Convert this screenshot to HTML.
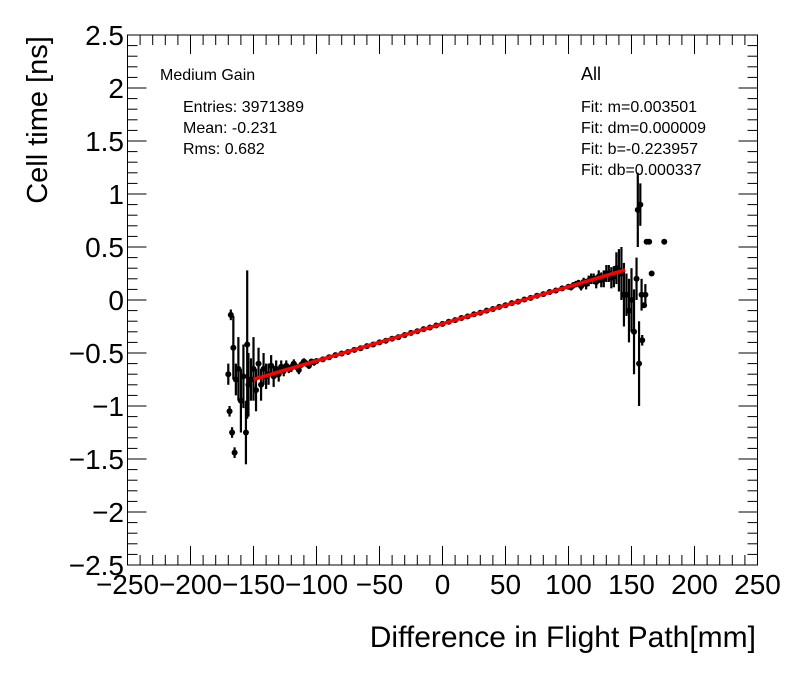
<!DOCTYPE html>
<html><head><meta charset="utf-8"><style>
body{margin:0;background:#fff;}
svg text{font-family:"Liberation Sans",sans-serif;fill:#000;}
</style></head><body>
<svg id="chart" width="796" height="672" xmlns="http://www.w3.org/2000/svg">
<rect width="796" height="672" fill="#fff"/>
<g id="axes"></g>
<g id="marks"></g>
<g id="fitg"></g>
<text x="0" y="0" font-size="29" text-anchor="middle" transform="translate(47,120) rotate(-90)">Cell time [ns]</text>
<text x="756" y="647" font-size="30" text-anchor="end">Difference in Flight Path[mm]</text>
<text x="160" y="80" font-size="16">Medium Gain</text>
<text x="183" y="112" font-size="16">Entries: 3971389</text>
<text x="183" y="133" font-size="16">Mean: -0.231</text>
<text x="183" y="154" font-size="16">Rms: 0.682</text>
<text x="581" y="80" font-size="18">All</text>
<text x="581" y="112" font-size="16">Fit: m=0.003501</text>
<text x="581" y="133" font-size="16">Fit: dm=0.000009</text>
<text x="581" y="154" font-size="16">Fit: b=-0.223957</text>
<text x="581" y="175" font-size="16">Fit: db=0.000337</text>
</svg>
<script>
const xs=[-170,-169,-168,-167,-166,-165,-164,-162,-160,-158,-156,-155,-154,-152,-150,-148,-146,-144,-142,-140,-138,-136,-134,-132,-130,-128,-126,-124,-122,-120,-118,-116,-114,-112,-110,-108,-106,-104,-102,-100,-95,-90,-85,-80,-75,-70,-65,-60,-55,-50,-45,-40,-35,-30,-25,-20,-15,-10,-5,0,5,10,15,20,25,30,35,40,45,50,55,60,65,70,75,80,85,90,95,100,102,104,106,108,110,112,114,116,118,120,122,124,126,128,130,132,134,136,138,140,142,144,146,148,150,152,154,155,156,157,158,158.5,160,161,162,164,166,176];
const ys=[-0.70,-1.05,-0.14,-1.25,-0.45,-1.44,-0.75,-0.65,-0.95,-0.72,-1.25,-0.42,-0.80,-0.75,-0.65,-0.85,-0.60,-0.80,-0.65,-0.72,-0.70,-0.62,-0.72,-0.65,-0.70,-0.63,-0.67,-0.62,-0.65,-0.64,-0.60,-0.63,-0.66,-0.61,-0.58,-0.60,-0.62,-0.58,-0.59,-0.575,-0.56,-0.54,-0.52,-0.505,-0.49,-0.47,-0.455,-0.435,-0.42,-0.40,-0.385,-0.365,-0.35,-0.33,-0.31,-0.295,-0.275,-0.26,-0.24,-0.225,-0.205,-0.19,-0.17,-0.155,-0.135,-0.12,-0.10,-0.085,-0.065,-0.05,-0.03,-0.015,0.005,0.02,0.04,0.055,0.075,0.09,0.11,0.125,0.12,0.14,0.15,0.16,0.13,0.17,0.15,0.18,0.20,0.20,0.17,0.22,0.19,0.20,0.25,0.25,0.21,0.22,0.30,0.28,0.25,0.05,0.05,-0.10,0.0,-0.30,0.20,0.85,-0.60,0.90,0.05,-0.38,-0.05,0.05,0.55,0.55,0.25,0.55];
const es=[0.10,0.05,0.05,0.05,0.30,0.05,0.15,0.30,0.30,0.30,0.30,0.70,0.30,0.20,0.30,0.20,0.15,0.15,0.15,0.12,0.10,0.10,0.10,0.08,0.07,0.06,0.05,0.05,0.04,0.04,0.04,0.03,0.04,0.03,0.03,0.03,0.03,0.02,0.03,0.02,0.02,0.02,0.02,0.015,0.015,0.015,0.015,0.015,0.015,0.015,0.015,0.015,0.015,0.015,0.015,0.015,0.015,0.015,0.015,0.015,0.015,0.015,0.015,0.015,0.015,0.015,0.015,0.015,0.015,0.015,0.015,0.015,0.015,0.015,0.02,0.02,0.02,0.02,0.02,0.025,0.03,0.03,0.03,0.03,0.04,0.04,0.05,0.05,0.05,0.05,0.06,0.06,0.07,0.08,0.08,0.08,0.10,0.10,0.15,0.20,0.25,0.30,0.20,0.30,0.30,0.40,0.20,0.35,0.40,0.20,0.15,0.05,0.02,0.10,0.02,0.02,0.02,0.02];
const xTicks=[-250,-200,-150,-100,-50,0,50,100,150,200,250];
const yTicks=[-2.5,-2,-1.5,-1,-0.5,0,0.5,1,1.5,2,2.5];
const fitM=0.003501, fitB=-0.223957, fitRange=[-150,145];
const NS="http://www.w3.org/2000/svg";
const L=127.5,R=757.5,T=35,B=565;
const X=v=>L+(v+250)*(R-L)/500;
const Y=v=>B-(v+2.5)*(B-T)/5;
function mk(tag,attrs,parent){const e=document.createElementNS(NS,tag);for(const k in attrs)e.setAttribute(k,attrs[k]);parent.appendChild(e);return e;}
const ax=document.getElementById('axes');
const frame=mk('rect',{x:L,y:T,width:R-L,height:B-T,fill:'none',stroke:'#000','stroke-width':1},ax);


for(let v=-250;v<=250;v+=10){const maj=v%50===0;const len=maj?19:10;
 mk('line',{x1:X(v),x2:X(v),y1:B,y2:B-len,stroke:'#000'},ax);
 mk('line',{x1:X(v),x2:X(v),y1:T,y2:T+len,stroke:'#000'},ax);}
for(let i=-25;i<=25;i++){const v=i/10;const maj=i%5===0;const len=maj?19:10;
 mk('line',{x1:L,x2:L+len,y1:Y(v),y2:Y(v),stroke:'#000'},ax);
 mk('line',{x1:R,x2:R-len,y1:Y(v),y2:Y(v),stroke:'#000'},ax);}
xTicks.forEach(v=>{const t=mk('text',{x:X(v),y:594,'font-size':28,'text-anchor':'middle'},ax);t.textContent=(v<0?'\u2212'+(-v):String(v));
 
 });
yTicks.forEach(v=>{const t=mk('text',{x:124,y:Y(v)+10,'font-size':28,'text-anchor':'end'},ax);t.textContent=(v<0?'\u2212'+(-v):String(v));
 
 });
const mg=document.getElementById('marks');
xs.forEach((x,i)=>{
 const l=mk('line',{x1:X(x),x2:X(x),y1:Y(ys[i]-es[i]),y2:Y(ys[i]+es[i]),stroke:'#000','stroke-width':2.2},mg);
 
 
 const c=mk('circle',{cx:X(x),cy:Y(ys[i]),r:3,fill:'#000'},mg);
 
 });
const f=mk('line',{x1:X(fitRange[0]),y1:Y(fitM*fitRange[0]+fitB),x2:X(fitRange[1]),y2:Y(fitM*fitRange[1]+fitB),stroke:'#ff0000','stroke-width':3.5},document.getElementById('fitg'));


</script>
</body></html>
